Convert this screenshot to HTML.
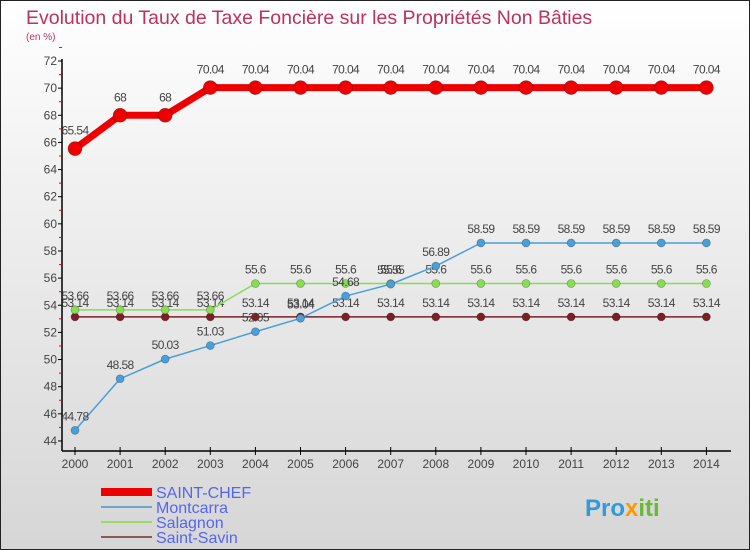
<!DOCTYPE html>
<html><head><meta charset="utf-8"><style>
body{margin:0}
#c{width:748px;height:548px;border:1px solid #222;background:linear-gradient(#fff 0%,#f2f2f2 30%,#d6d6d6 100%);position:relative;font-family:"Liberation Sans",sans-serif;overflow:hidden}
text{font-family:"Liberation Sans",sans-serif}
</style></head><body>
<div id="c">
<svg id="s" width="748" height="548">
<text x="25" y="23" font-size="19.5" fill="#c0305a">Evolution du Taux de Taxe Foncière sur les Propriétés Non Bâties</text>
<text x="25" y="39" font-size="10" fill="#c0305a">(en %)</text>
<text x="584" y="515" font-size="24" font-weight="bold" fill="#3399dd">Pro<tspan fill="#ff9900">x</tspan><tspan fill="#66bb33">iti</tspan></text>
</svg>
</div>
<script>
const years=[2000,2001,2002,2003,2004,2005,2006,2007,2008,2009,2010,2011,2012,2013,2014];
const saintChef=[65.54,68,68,70.04,70.04,70.04,70.04,70.04,70.04,70.04,70.04,70.04,70.04,70.04,70.04];
const montcarra=[44.78,48.58,50.03,51.03,52.05,53.04,54.68,55.55,56.89,58.59,58.59,58.59,58.59,58.59,58.59];
const salagnon=[53.66,53.66,53.66,53.66,55.6,55.6,55.6,55.6,55.6,55.6,55.6,55.6,55.6,55.6,55.6];
const saintSavin=[53.14,53.14,53.14,53.14,53.14,53.14,53.14,53.14,53.14,53.14,53.14,53.14,53.14,53.14,53.14];
const yTicks=[44,46,48,50,52,54,56,58,60,62,64,66,68,70,72];
const NS="http://www.w3.org/2000/svg";
const svg=document.getElementById('s');
const X=i=>74+i*45.1;
const Y=v=>60+(72-v)*13.57;
function mk(t,a,p){const e=document.createElementNS(NS,t);for(const k in a)e.setAttribute(k,a[k]);(p||svg).appendChild(e);return e;}
let ax=mk('line',{x1:61,y1:58,x2:61,y2:450,stroke:'#000','stroke-width':1.5});


let xa=mk('line',{x1:61,y1:450,x2:730,y2:450,stroke:'#000','stroke-width':1.5});


yTicks.forEach(v=>{
  mk('line',{x1:57,y1:Y(v),x2:61,y2:Y(v),stroke:'#000'});
  mk('line',{x1:58,y1:Y(v+1),x2:61,y2:Y(v+1),stroke:'#e00'});
  const t=mk('text',{x:56,y:Y(v)+4,'font-size':12,fill:'#444','text-anchor':'end'});
  t.textContent=v;
  
  
});
years.forEach((yr,i)=>{
  mk('line',{x1:X(i),y1:446,x2:X(i),y2:454,stroke:'#000'});
  const t=mk('text',{x:X(i),y:467,'font-size':12,fill:'#444','text-anchor':'middle'});
  t.textContent=yr;
  
  
});
function series(name,vals,col,w,r,dy){
  const g=mk('g',{});
  
  
  mk('polyline',{points:vals.map((v,i)=>X(i)+','+Y(v)).join(' '),fill:'none',stroke:col,'stroke-width':w},g);
  vals.forEach((v,i)=>{
    const c=mk('circle',{cx:X(i),cy:Y(v),r:r,fill:col,stroke:'rgba(0,0,0,0.3)','stroke-width':0.7},g);
    
    
    const t=mk('text',{x:X(i),y:Y(v)+dy,'font-size':12,fill:'#444','text-anchor':'middle','letter-spacing':'-0.6'},g);
    t.textContent=String(v);
    
    
  });
}
series('saint-savin',saintSavin,'#7a1f26',1.5,4,-10);
series('salagnon',salagnon,'#88dd55',1.5,4,-10);
series('montcarra',montcarra,'#4a9fd8',1.5,4,-10);
series('saint-chef',saintChef,'#ee0000',7,7,-14);
const leg=[['SAINT-CHEF','#ee0000',8],['Montcarra','#6aa6d0',2],['Salagnon','#99dd66',2],['Saint-Savin','#8a5a5a',2]];
leg.forEach((l,i)=>{
  const y=491+i*15;
  const g=mk('g',{});
  
  
  mk('line',{x1:100,y1:y,x2:151,y2:y,stroke:l[1],'stroke-width':l[2]},g);
  const t=mk('text',{x:155,y:y+6,'font-size':16,fill:'#5566ee'},g);
  t.textContent=l[0];
});
</script>
</body></html>
